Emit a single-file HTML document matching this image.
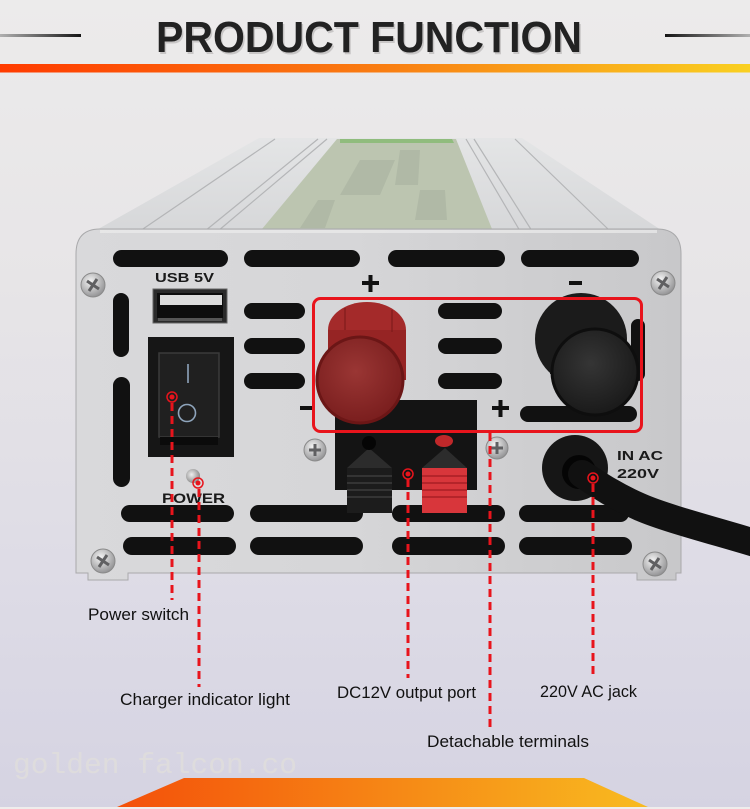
<!DOCTYPE html>
<html><head><meta charset="utf-8"><style>
html,body{margin:0;padding:0;background:#e8e6e8;}
svg{display:block;}
</style></head><body>
<svg width="750" height="809" viewBox="0 0 750 809" xmlns="http://www.w3.org/2000/svg">
<defs>
<linearGradient id="bg" x1="0" y1="0" x2="0" y2="1">
<stop offset="0" stop-color="#ecebeb"/><stop offset="0.35" stop-color="#e7e5e7"/><stop offset="0.7" stop-color="#dedce6"/><stop offset="1" stop-color="#d5d3e2"/></linearGradient>
<linearGradient id="orng" x1="0" y1="0" x2="1" y2="0">
<stop offset="0" stop-color="#ff3b00"/><stop offset="0.5" stop-color="#f97c12"/><stop offset="1" stop-color="#f9d021"/></linearGradient>
<linearGradient id="trap" x1="0" y1="0" x2="1" y2="0">
<stop offset="0" stop-color="#f4500a"/><stop offset="1" stop-color="#f8bb20"/></linearGradient>
<linearGradient id="ll" x1="0" y1="0" x2="1" y2="0"><stop offset="0" stop-color="#b0b0b0"/><stop offset="1" stop-color="#151515"/></linearGradient>
<linearGradient id="rl" x1="0" y1="0" x2="1" y2="0"><stop offset="0" stop-color="#151515"/><stop offset="1" stop-color="#b0b0b0"/></linearGradient>
<linearGradient id="panel" x1="0" y1="0" x2="1" y2="0">
<stop offset="0" stop-color="#d9d9db"/><stop offset="0.45" stop-color="#d6d6d8"/><stop offset="1" stop-color="#c8c8ca"/></linearGradient>
<linearGradient id="topg" x1="0" y1="0" x2="0" y2="1">
<stop offset="0" stop-color="#e4e5e6"/><stop offset="1" stop-color="#d6d7d9"/></linearGradient>
<radialGradient id="screw" cx="0.4" cy="0.35" r="0.7"><stop offset="0" stop-color="#f4f4f4"/><stop offset="1" stop-color="#8e8e90"/></radialGradient>
<radialGradient id="rface" cx="0.45" cy="0.4" r="0.6"><stop offset="0" stop-color="#9a3634"/><stop offset="1" stop-color="#7a1e1e"/></radialGradient>
<radialGradient id="bface" cx="0.45" cy="0.4" r="0.6"><stop offset="0" stop-color="#353535"/><stop offset="1" stop-color="#1a1a1a"/></radialGradient>
<radialGradient id="led" cx="0.4" cy="0.4" r="0.6"><stop offset="0" stop-color="#eeeeee"/><stop offset="1" stop-color="#8d8d8d"/></radialGradient>
</defs>

<!-- background -->
<rect x="0" y="0" width="750" height="809" fill="url(#bg)"/>

<!-- header -->
<rect x="0" y="34" width="81" height="3" fill="url(#ll)"/>
<rect x="665" y="34" width="85" height="3" fill="url(#rl)"/>
<text x="156" y="52" font-family="'Liberation Sans', sans-serif" font-weight="bold" font-size="44" fill="#c8c6c6" textLength="426" lengthAdjust="spacingAndGlyphs" transform="translate(1.5,2)">PRODUCT FUNCTION</text>
<text x="156" y="52" font-family="'Liberation Sans', sans-serif" font-weight="bold" font-size="44" fill="#222222" textLength="426" lengthAdjust="spacingAndGlyphs">PRODUCT FUNCTION</text>
<rect x="0" y="64" width="750" height="8.5" fill="url(#orng)"/>

<!-- device top -->
<polygon points="259,138 522,138 664,232 93,232" fill="url(#topg)"/>
<polygon points="337,139 456,139 492,229 262,229" fill="#bcc5b0"/>
<polygon points="340,139 452,139 454,143 340,143" fill="#7db868" opacity="0.7"/>
<g fill="#9aa494" opacity="0.35">
<polygon points="360,160 395,160 380,195 340,195"/>
<polygon points="400,150 420,150 418,185 395,185"/>
<polygon points="420,190 445,190 447,220 415,220"/>
<polygon points="318,200 335,200 325,228 300,228"/>
</g>
<g stroke="#b4b5b7" stroke-width="1.2" fill="none">
<line x1="275" y1="139" x2="140" y2="231"/>
<line x1="318" y1="139" x2="205" y2="231"/>
<line x1="327" y1="139" x2="218" y2="231"/>
<line x1="466" y1="139" x2="520" y2="231"/>
<line x1="474" y1="139" x2="532" y2="231"/>
<line x1="515" y1="139" x2="610" y2="231"/>
</g>

<!-- front panel -->
<path d="M76,254 Q76,229 100,229 L657,229 Q681,229 681,254 L681,573 L676,573 L676,580 L637,580 L637,573 L128,573 L128,580 L88,580 L88,573 L76,573 Z" fill="url(#panel)" stroke="#a9a9ab" stroke-width="1"/>
<rect x="100" y="230" width="557" height="3" fill="#ececec" opacity="0.7"/>

<!-- vent slots -->
<g fill="#111">
<rect x="113" y="250" width="115" height="17" rx="8.5"/>
<rect x="244" y="250" width="116" height="17" rx="8.5"/>
<rect x="388" y="250" width="117" height="17" rx="8.5"/>
<rect x="521" y="250" width="118" height="17" rx="8.5"/>
<rect x="113" y="293" width="16" height="64" rx="8"/>
<rect x="113" y="377" width="17" height="110" rx="8.5"/>
<rect x="244" y="303" width="61" height="16" rx="8"/>
<rect x="244" y="338" width="61" height="16" rx="8"/>
<rect x="244" y="373" width="61" height="16" rx="8"/>
<rect x="438" y="303" width="64" height="16" rx="8"/>
<rect x="438" y="338" width="64" height="16" rx="8"/>
<rect x="438" y="373" width="64" height="16" rx="8"/>
<rect x="631" y="319" width="14" height="62" rx="7"/>
<rect x="520" y="406" width="117" height="16" rx="8"/>
<rect x="121" y="505" width="113" height="17" rx="8.5"/>
<rect x="250" y="505" width="113" height="17" rx="8.5"/>
<rect x="392" y="505" width="113" height="17" rx="8.5"/>
<rect x="519" y="505" width="110" height="17" rx="8.5"/>
<rect x="123" y="537" width="113" height="18" rx="9"/>
<rect x="250" y="537" width="113" height="18" rx="9"/>
<rect x="392" y="537" width="113" height="18" rx="9"/>
<rect x="519" y="537" width="113" height="18" rx="9"/>
</g>

<!-- USB -->
<text x="155" y="282" font-family="'Liberation Sans', sans-serif" font-weight="bold" font-size="13" fill="#1a1a1a" textLength="59" lengthAdjust="spacingAndGlyphs">USB 5V</text>
<rect x="153" y="289" width="74" height="34" fill="#2a2a2a" stroke="#666" stroke-width="1"/>
<rect x="157" y="293" width="66" height="25" fill="#0d0d0d"/>
<rect x="160" y="295" width="62" height="10" fill="#dcdcdc"/>
<rect x="158" y="318" width="64" height="3" fill="#555"/>

<!-- rocker switch -->
<rect x="148" y="337" width="86" height="120" fill="#161616"/>
<rect x="159" y="353" width="60" height="84" fill="#202020" stroke="#3a3a3a" stroke-width="1.5"/>
<rect x="160" y="437" width="58" height="8" fill="#0b0b0b"/>
<line x1="188" y1="364" x2="188" y2="383" stroke="#8ea4bb" stroke-width="1.6"/>
<circle cx="187" cy="413" r="8.5" fill="none" stroke="#8ea4bb" stroke-width="1.6"/>

<!-- power led -->
<circle cx="193" cy="476" r="7" fill="url(#led)"/>
<text x="162" y="503" font-family="'Liberation Sans', sans-serif" font-weight="bold" font-size="14" fill="#1a1a1a" textLength="63" lengthAdjust="spacingAndGlyphs">POWER</text>

<!-- screws -->
<g>
<g transform="translate(93,285)"><circle r="12" fill="url(#screw)" stroke="#8a8a8a"/><path d="M-6,-4 L6,4 M-4,6 L4,-6" stroke="#606062" stroke-width="3"/></g>
<g transform="translate(663,283)"><circle r="12" fill="url(#screw)" stroke="#8a8a8a"/><path d="M-6,-4 L6,4 M-4,6 L4,-6" stroke="#606062" stroke-width="3"/></g>
<g transform="translate(103,561)"><circle r="12" fill="url(#screw)" stroke="#8a8a8a"/><path d="M-6,-4 L6,4 M-4,6 L4,-6" stroke="#606062" stroke-width="3"/></g>
<g transform="translate(655,564)"><circle r="12" fill="url(#screw)" stroke="#8a8a8a"/><path d="M-6,-4 L6,4 M-4,6 L4,-6" stroke="#606062" stroke-width="3"/></g>
<g transform="translate(315,450)"><circle r="11" fill="url(#screw)" stroke="#8a8a8a"/><path d="M-6,0 L6,0 M0,-6 L0,6" stroke="#606062" stroke-width="3"/></g>
<g transform="translate(497,448)"><circle r="11" fill="url(#screw)" stroke="#8a8a8a"/><path d="M-6,0 L6,0 M0,-6 L0,6" stroke="#606062" stroke-width="3"/></g>
</g>

<!-- polarity signs -->
<g fill="#111">
<rect x="362" y="281" width="17" height="4"/><rect x="368.5" y="275" width="4" height="17"/>
<rect x="569" y="281" width="13" height="4"/>
<rect x="300" y="406" width="14" height="4"/>
<rect x="492" y="406" width="17" height="4"/><rect x="498.5" y="400" width="4" height="17"/>
</g>

<!-- terminal block -->
<rect x="335" y="400" width="142" height="90" fill="#141414"/>
<polygon points="347,468 369,448 392,468" fill="#2c2c2c"/>
<polygon points="422,468 445,448 467,468" fill="#2c2c2c"/>
<circle cx="369" cy="443" r="7" fill="#050505"/>
<ellipse cx="444" cy="441" rx="9" ry="6" fill="#c0282a"/>
<rect x="347" y="468" width="45" height="45" fill="#1c1c1c"/>
<g stroke="#3c3c3c" stroke-width="1.5"><line x1="347" y1="476" x2="392" y2="476"/><line x1="347" y1="483" x2="392" y2="483"/><line x1="347" y1="490" x2="392" y2="490"/><line x1="347" y1="497" x2="392" y2="497"/></g>
<rect x="422" y="468" width="45" height="45" fill="#d8363b"/>
<g stroke="#a91f24" stroke-width="1.5"><line x1="422" y1="476" x2="467" y2="476"/><line x1="422" y1="483" x2="467" y2="483"/><line x1="422" y1="490" x2="467" y2="490"/><line x1="422" y1="497" x2="467" y2="497"/></g>

<!-- red knob -->
<ellipse cx="367" cy="330" rx="39" ry="28" fill="#a42a2a"/>
<rect x="328" y="330" width="78" height="50" fill="#962424"/>
<g stroke="#7a1a1a" stroke-width="1.5" opacity="0.7"><line x1="345" y1="308" x2="345" y2="330"/><line x1="392" y1="310" x2="392" y2="332"/></g>
<circle cx="360" cy="380" r="43" fill="url(#rface)" stroke="#6b1616" stroke-width="3"/>

<!-- black knob -->
<circle cx="581" cy="339" r="46" fill="#1b1b1b"/>
<rect x="550" y="339" width="75" height="35" fill="#1b1b1b"/>
<circle cx="595" cy="372" r="43" fill="url(#bface)" stroke="#0e0e0e" stroke-width="3"/>

<!-- AC grommet and cable -->
<circle cx="575" cy="468" r="33" fill="#161616"/>
<circle cx="579" cy="472" r="17" fill="#050505"/>
<path d="M582,474 C600,486 615,496 640,507 S712,530 765,546" stroke="#111" stroke-width="28" fill="none" stroke-linecap="round"/>
<text x="617" y="460" font-family="'Liberation Sans', sans-serif" font-weight="bold" font-size="13" fill="#1a1a1a" textLength="46" lengthAdjust="spacingAndGlyphs">IN AC</text>
<text x="617" y="478" font-family="'Liberation Sans', sans-serif" font-weight="bold" font-size="13" fill="#1a1a1a" textLength="42" lengthAdjust="spacingAndGlyphs">220V</text>

<!-- red highlight box -->
<rect x="313.5" y="298.5" width="328" height="133" rx="7" fill="none" stroke="#e8141c" stroke-width="3"/>

<!-- dashed leader lines -->
<g stroke="#e8141c" stroke-width="3" stroke-dasharray="8 5" fill="none">
<line x1="172" y1="403" x2="172" y2="600"/>
<line x1="199" y1="489" x2="199" y2="687"/>
<line x1="408" y1="479" x2="408" y2="678"/>
<line x1="490" y1="433" x2="490" y2="727"/>
<line x1="593" y1="484" x2="593" y2="679"/>
</g>
<g stroke="#e8141c" stroke-width="1.5" fill="none">
<circle cx="172" cy="397" r="5"/><circle cx="198" cy="483" r="5"/><circle cx="408" cy="474" r="5"/><circle cx="593" cy="478" r="5"/>
</g>
<g fill="#e8141c">
<circle cx="172" cy="397" r="2.5"/><circle cx="198" cy="483" r="2.5"/><circle cx="408" cy="474" r="2.5"/><circle cx="593" cy="478" r="2.5"/>
</g>

<!-- labels -->
<g font-family="'Liberation Sans', sans-serif" font-size="17" fill="#111">
<text x="88" y="620" textLength="101" lengthAdjust="spacingAndGlyphs">Power switch</text>
<text x="120" y="705" textLength="170" lengthAdjust="spacingAndGlyphs">Charger indicator light</text>
<text x="337" y="698" textLength="139" lengthAdjust="spacingAndGlyphs">DC12V output port</text>
<text x="540" y="697" textLength="97" lengthAdjust="spacingAndGlyphs">220V AC jack</text>
<text x="427" y="747" textLength="162" lengthAdjust="spacingAndGlyphs">Detachable terminals</text>
</g>

<!-- watermark -->
<text x="13" y="773" font-family="'Liberation Mono', monospace" font-size="29" fill="#e0dedc" opacity="0.8" textLength="284" lengthAdjust="spacingAndGlyphs">golden falcon.co</text>

<!-- bottom trapezoid -->
<polygon points="117,807 184,778 584,778 648,807" fill="url(#trap)"/>
<rect x="0" y="807" width="750" height="2" fill="#efedec"/>
</svg>
</body></html>
